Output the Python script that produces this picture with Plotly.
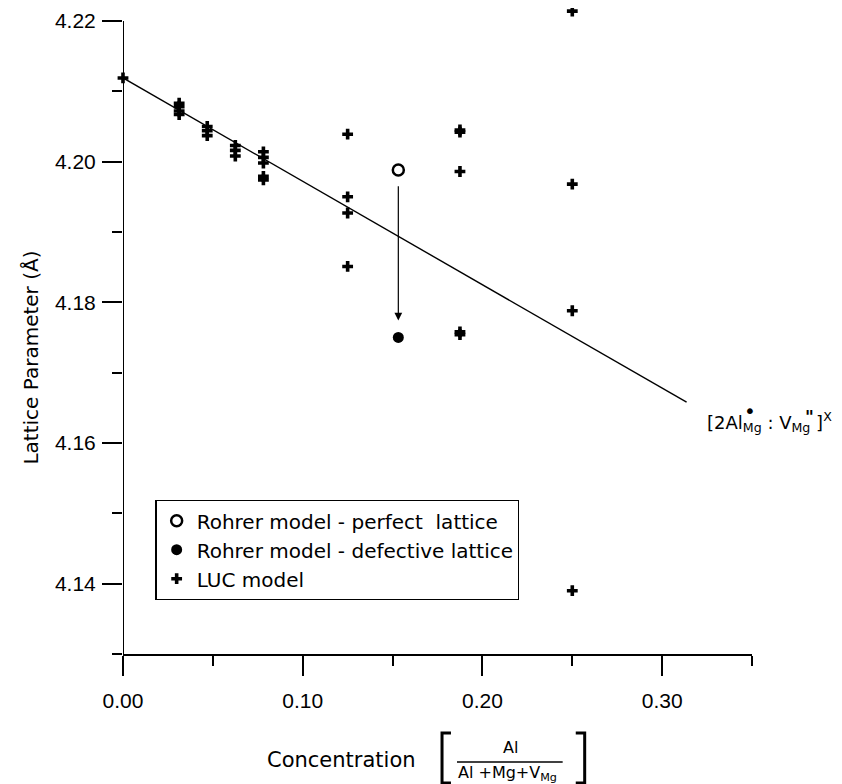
import plotly.graph_objects as go

# ---- data ----
luc_x = [0.0,
         0.03125, 0.03125, 0.03125, 0.03125,
         0.046875, 0.046875, 0.046875,
         0.0625, 0.0625, 0.0625,
         0.078125, 0.078125, 0.078125, 0.078125, 0.078125,
         0.125, 0.125, 0.125, 0.125,
         0.1875, 0.1875, 0.1875, 0.1875, 0.1875,
         0.25, 0.25, 0.25, 0.25]
luc_y = [4.2119,
         4.2083, 4.2078, 4.2072, 4.2067,
         4.2050, 4.2044, 4.2037,
         4.2023, 4.2016, 4.2008,
         4.2014, 4.2006, 4.1998, 4.1979, 4.1974,
         4.2039, 4.1950, 4.1927, 4.1851,
         4.2045, 4.2042, 4.1986, 4.1758, 4.1754,
         4.2214, 4.1968, 4.1788, 4.1390]

perfect_x = [0.1532]
perfect_y = [4.1988]
defective_x = [0.1532]
defective_y = [4.1750]

arrow_from = 4.1967
arrow_to = 4.1774

fit_x = [0.0, 0.3136]
fit_y = [4.2119, 4.1658]

x_ticks = [0.0, 0.1, 0.2, 0.3]
x_tick_text = ["0.00", "0.10", "0.20", "0.30"]
x_minor = [0.05, 0.15, 0.25, 0.35]
y_ticks = [4.14, 4.16, 4.18, 4.20, 4.22]
y_tick_text = ["4.14", "4.16", "4.18", "4.20", "4.22"]
y_minor = [4.13, 4.15, 4.17, 4.19, 4.21]

TXT = "DejaVu Sans"
NUM = "Liberation Sans"

fig = go.Figure()
fig.add_trace(go.Scatter(x=fit_x, y=fit_y, mode="lines",
                         line=dict(color="black", width=1.4),
                         showlegend=False, hoverinfo="skip"))
fig.add_trace(go.Scatter(x=perfect_x, y=perfect_y, mode="markers",
                         name="Rohrer model - perfect  lattice",
                         marker=dict(symbol="circle-open", size=11, color="black",
                                     line=dict(width=2.5, color="black")),
                         cliponaxis=False))
fig.add_trace(go.Scatter(x=defective_x, y=defective_y, mode="markers",
                         name="Rohrer model - defective lattice",
                         marker=dict(symbol="circle", size=11, color="black"),
                         cliponaxis=False))
fig.add_trace(go.Scatter(x=luc_x, y=luc_y, mode="markers",
                         name="LUC model",
                         marker=dict(symbol="cross", size=9, color="black",
                                     line=dict(width=0)),
                         cliponaxis=False))

# y axis line stops at the top major tick
fig.add_shape(type="line", xref="x", yref="y", x0=x_ticks[0], x1=x_ticks[0],
              y0=y_minor[0], y1=y_ticks[-1], line=dict(color="black", width=2))

# arrow from perfect to defective
fig.add_annotation(x=perfect_x[0], y=arrow_to, ax=perfect_x[0], ay=arrow_from,
                   xref="x", yref="y", axref="x", ayref="y", text="",
                   showarrow=True, arrowhead=2, arrowsize=1.3, arrowwidth=1.2,
                   arrowcolor="black", standoff=0, startstandoff=0)

# Kröger-Vink label
fig.add_annotation(x=0.3240, y=4.1630, xref="x", yref="y", xanchor="left", yanchor="middle",
                   text="[2Al<sub>Mg</sub> : V<sub>Mg</sub> ]<sup>X</sup>",
                   showarrow=False, font=dict(family=TXT, size=18, color="black"))
fig.add_annotation(x=1.0, y=0.3775, xref="paper", yref="paper", xanchor="center", yanchor="middle",
                   xshift=-2.5,
                   text="•", showarrow=False, font=dict(family=TXT, size=20, color="black"))
fig.add_annotation(x=1.0913, y=0.367, xref="paper", yref="paper", xanchor="center", yanchor="middle",
                   text="<b>\"</b>", showarrow=False, font=dict(family=TXT, size=17, color="black"))

# y title
fig.add_annotation(x=-0.147, y=0.4589, xref="paper", yref="paper", textangle=-90,
                   xanchor="center", yanchor="middle",
                   text="Lattice Parameter (Å)", showarrow=False,
                   font=dict(family=TXT, size=20, color="black"))

# x title with fraction
fig.add_annotation(x=0.3468, y=-0.1643, xref="paper", yref="paper",
                   xanchor="center", yanchor="middle",
                   text="Concentration", showarrow=False,
                   font=dict(family=TXT, size=21, color="black"))
fig.add_annotation(x=0.6167, y=-0.1457, xref="paper", yref="paper",
                   xanchor="center", yanchor="middle",
                   text="Al", showarrow=False,
                   font=dict(family=TXT, size=16, color="black"))
fig.add_annotation(x=0.6119, y=-0.1860, xref="paper", yref="paper",
                   xanchor="center", yanchor="middle",
                   text="Al +Mg+V<sub>Mg</sub>", showarrow=False,
                   font=dict(family=TXT, size=16, color="black"))
fig.add_shape(type="line", xref="paper", yref="paper", x0=0.531, x1=0.699,
              y0=-0.1674, y1=-0.1674, line=dict(color="black", width=1.5))
fig.add_shape(type="path", xref="paper", yref="paper",
              path="M 0.5214,-0.1225 L 0.5072,-0.1225 L 0.5072,-0.2000 L 0.5214,-0.2000",
              line=dict(color="black", width=3))
fig.add_shape(type="path", xref="paper", yref="paper",
              path="M 0.7198,-0.1225 L 0.7340,-0.1225 L 0.7340,-0.2000 L 0.7198,-0.2000",
              line=dict(color="black", width=3))

fig.update_layout(
    width=834, height=776,
    margin=dict(l=114.5, r=89.5, t=1, b=130),
    paper_bgcolor="white", plot_bgcolor="white",
    showlegend=True,
    legend=dict(x=0.0516, y=0.0837, xanchor="left", yanchor="bottom",
                bordercolor="black", borderwidth=1.2, bgcolor="white",
                font=dict(family=TXT, size=20, color="black"),
                itemsizing="trace", tracegroupgap=0),
    xaxis=dict(range=[0, 0.35], showgrid=False, zeroline=False,
               showline=True, linecolor="black", linewidth=2,
               ticks="outside", ticklen=20, tickwidth=2, tickcolor="black",
               tickvals=x_ticks, ticktext=x_tick_text, ticklabelstandoff=7,
               tickfont=dict(family=NUM, size=21, color="black"),
               minor=dict(tickvals=x_minor, ticks="outside", ticklen=10,
                          tickwidth=2, tickcolor="black", showgrid=False)),
    yaxis=dict(range=[4.13, 4.2217], showgrid=False, zeroline=False,
               showline=False,
               ticks="outside", ticklen=20, tickwidth=2, tickcolor="black",
               tickvals=y_ticks, ticktext=y_tick_text, ticklabelstandoff=2,
               tickfont=dict(family=NUM, size=21, color="black"),
               minor=dict(tickvals=y_minor, ticks="outside", ticklen=10,
                          tickwidth=2, tickcolor="black", showgrid=False)),
)

fig.write_html("out.html")
